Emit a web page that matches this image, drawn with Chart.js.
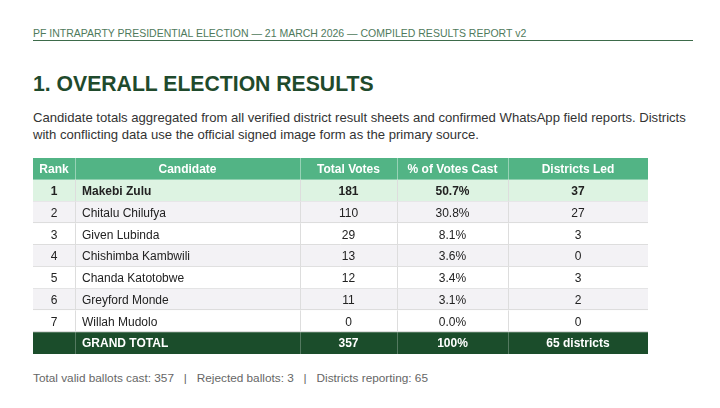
<!DOCTYPE html>
<html><head><meta charset="utf-8">
<script src="https://cdn.jsdelivr.net/npm/chart.js@4"></script>
<style>
body{margin:0;width:720px;height:408px;background:#fff;font-family:"Liberation Sans",Arial,sans-serif;position:relative;overflow:hidden}
.top{position:absolute;left:33px;top:27px;font-size:10.5px;color:#4f7a5c}
.rule{position:absolute;left:33px;top:40px;width:660px;height:1px;background:#3d6b4a}
h1{position:absolute;left:33px;top:72px;margin:0;font-size:21.2px;font-weight:bold;color:#1f4a2c}
.p{position:absolute;left:33px;top:109px;width:660px;font-size:13.1px;line-height:17px;color:#333}
.foot{position:absolute;left:33px;top:371px;font-size:11.8px;color:#666}
#c{position:absolute;left:33px;top:158px}
</style></head><body>
<div class="top">PF INTRAPARTY PRESIDENTIAL ELECTION — 21 MARCH 2026 — COMPILED RESULTS REPORT v2</div>
<div class="rule"></div>
<h1>1. OVERALL ELECTION RESULTS</h1>
<div class="p">Candidate totals aggregated from all verified district result sheets and confirmed WhatsApp field reports. Districts with conflicting data use the official signed image form as the primary source.</div>
<canvas id="c" width="615" height="196"></canvas>
<div class="foot">Total valid ballots cast: 357 &nbsp;&nbsp;|&nbsp;&nbsp; Rejected ballots: 3 &nbsp;&nbsp;|&nbsp;&nbsp; Districts reporting: 65</div>
<script>
const headers=["Rank","Candidate","Total Votes","% of Votes Cast","Districts Led"];
const ranks=["1","2","3","4","5","6","7"];
const candidates=["Makebi Zulu","Chitalu Chilufya","Given Lubinda","Chishimba Kambwili","Chanda Katotobwe","Greyford Monde","Willah Mudolo"];
const votes=[181,110,29,13,12,11,0];
const pcts=["50.7%","30.8%","8.1%","3.6%","3.4%","3.1%","0.0%"];
const districtsLed=[37,27,3,0,3,2,0];
const totalRow=["","GRAND TOTAL","357","100%","65 districts"];
const colEdges=[0,42,267,364,475,615];

const tablePlugin={id:'table',afterDraw(ch){
 const ctx=ch.ctx,xs=ch.scales.x,ys=ch.scales.y;
 const rows=[headers];
 for(let i=0;i<ranks.length;i++)rows.push([ranks[i],candidates[i],String(votes[i]),pcts[i],String(districtsLed[i])]);
 rows.push(totalRow);
 const n=rows.length;
 ctx.save();
 rows.forEach((r,ri)=>{
  const y0=ys.getPixelForValue(ri),y1=ys.getPixelForValue(ri+1);
  const x0=xs.getPixelForValue(colEdges[0]),x1=xs.getPixelForValue(colEdges[5]);
  let bg='#fff',fg='#222',bold=false;
  if(ri===0){bg='#52b485';fg='#fff';bold=true}
  else if(ri===n-1){bg='#1b4d2b';fg='#fff';bold=true}
  else if(ri===1){bg='#ddf3e2';bold=true}
  else if(ri%2===0){bg='#f3f2f5'}
  ctx.fillStyle=bg;ctx.fillRect(x0,y0,x1-x0,y1-y0);
  ctx.strokeStyle=ri===0?'rgba(255,255,255,0.4)':(ri===n-1?'rgba(255,255,255,0.25)':'#dddddd');ctx.lineWidth=1;
  for(let c=1;c<5;c++){const x=Math.round(xs.getPixelForValue(colEdges[c]))+0.5;ctx.beginPath();ctx.moveTo(x,y0);ctx.lineTo(x,y1);ctx.stroke();}
  if(ri>0&&ri<n-1){ctx.strokeStyle='#dddddd';ctx.beginPath();ctx.moveTo(x0,Math.round(y1)-0.5);ctx.lineTo(x1,Math.round(y1)-0.5);ctx.stroke();}
  ctx.font=(bold?'bold ':'')+'12px "Liberation Sans",Arial,sans-serif';
  ctx.fillStyle=fg;ctx.textBaseline='middle';
  r.forEach((t,c)=>{
   const a=xs.getPixelForValue(colEdges[c]),b=xs.getPixelForValue(colEdges[c+1]);
   if(c===1&&ri!==0){ctx.textAlign='left';ctx.fillText(t,a+7,(y0+y1)/2+1)}
   else{ctx.textAlign='center';ctx.fillText(t,(a+b)/2,(y0+y1)/2+1)}
  });
 });
 ctx.restore();
}};
new Chart(document.getElementById('c'),{
 type:'scatter',
 data:{datasets:[{data:[]}]},
 options:{responsive:false,animation:false,events:[],
  layout:{padding:0},
  plugins:{legend:{display:false},tooltip:{enabled:false}},
  scales:{x:{type:'linear',min:0,max:615,display:false},
          y:{type:'linear',min:0,max:candidates.length+2,reverse:true,display:false}}},
 plugins:[tablePlugin]});
</script>
</body></html>
